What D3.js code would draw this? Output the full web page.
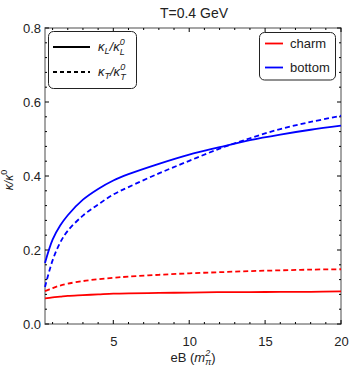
<!DOCTYPE html>
<html>
<head>
<meta charset="utf-8">
<script src="https://cdn.jsdelivr.net/npm/d3@7"></script>
<style>
  body { margin: 0; background: #fff; }
  svg { display: block; font-family: "Liberation Sans", Arial, sans-serif; }
</style>
</head>
<body>
<svg width="350" height="371"></svg>
<script>
// Data
const eB = [0.5, 1, 1.5, 2, 3, 4, 5, 6, 8, 10, 12, 14, 16, 18, 20];
const charmL = [0.069, 0.072, 0.074, 0.076, 0.078, 0.080, 0.082, 0.083, 0.084, 0.085, 0.086, 0.086, 0.087, 0.087, 0.088];
const charmT = [0.089, 0.097, 0.104, 0.109, 0.116, 0.121, 0.125, 0.128, 0.133, 0.137, 0.140, 0.143, 0.145, 0.147, 0.148];
const bottomL = [0.165, 0.228, 0.266, 0.294, 0.336, 0.365, 0.388, 0.405, 0.433, 0.458, 0.478, 0.497, 0.512, 0.525, 0.536];
const bottomT = [0.100, 0.172, 0.220, 0.252, 0.293, 0.323, 0.350, 0.370, 0.407, 0.441, 0.474, 0.502, 0.527, 0.546, 0.563];

const xTicks = [5, 10, 15, 20];
const xMinor = d3.range(1, 21);
const yTicks = [0, 0.2, 0.4, 0.6, 0.8];
const yMinor = d3.range(0, 21).map(i => i * 0.04);

const svg = d3.select("svg");

const margin = { left: 45, right: 9, top: 28, bottom: 47 };
const W = 350, H = 371;

const x = d3.scaleLinear().domain([0.5, 20]).range([margin.left, W - margin.right]);
const y = d3.scaleLinear().domain([0, 0.8]).range([H - margin.bottom, margin.top]);

// Frame
svg.append("rect")
    .attr("x", x.range()[0]).attr("y", y.range()[1])
    .attr("width", x.range()[1] - x.range()[0])
    .attr("height", y.range()[0] - y.range()[1])
    .attr("fill", "none")
    .attr("stroke", "#888")
    .attr("stroke-width", 1.5);

// Minor + major ticks on all four sides (pointing inward)
function xticks(g, vals, len) {
    vals.forEach(v => {
        const px = x(v);
        g.append("line").attr("x1", px).attr("x2", px)
            .attr("y1", y.range()[0]).attr("y2", y.range()[0] - len);
        g.append("line").attr("x1", px).attr("x2", px)
            .attr("y1", y.range()[1]).attr("y2", y.range()[1] + len);
    });
}
function yticks(g, vals, len) {
    vals.forEach(v => {
        const py = y(v);
        g.append("line").attr("y1", py).attr("y2", py)
            .attr("x1", x.range()[0]).attr("x2", x.range()[0] + len);
        g.append("line").attr("y1", py).attr("y2", py)
            .attr("x1", x.range()[1]).attr("x2", x.range()[1] - len);
    });
}
const tg = svg.append("g").attr("stroke", "#000").attr("stroke-width", 1);
xticks(tg, xMinor.filter(d => d % 5 !== 0), 2);
xticks(tg, xTicks, 4);
yticks(tg, yMinor.filter((d, i) => i % 5 !== 0), 2);
yticks(tg, yTicks, 4);

// Tick labels via axes (no lines)
const xAxis = svg.append("g")
    .attr("transform", `translate(0,${y.range()[0]})`)
    .call(d3.axisBottom(x).tickValues(xTicks).tickSize(0).tickPadding(13));
const yAxis = svg.append("g")
    .attr("transform", `translate(${x.range()[0]},0)`)
    .call(d3.axisLeft(y).tickValues(yTicks).tickFormat(d3.format(".1f")).tickSize(0).tickPadding(4));
[xAxis, yAxis].forEach(a => {
    a.select(".domain").remove();
    a.selectAll("text").attr("font-size", 13).attr("fill", "#222")
        .style("font-family", "Liberation Sans, Arial, sans-serif");
});

// Curves
const line = vals => d3.line()
    .x((d, i) => x(eB[i]))
    .y(d => y(d))
    .curve(d3.curveCatmullRom.alpha(0.5))(vals);

const series = [
    { vals: charmL, color: "#ff0000", dash: null },
    { vals: charmT, color: "#ff0000", dash: "5,3" },
    { vals: bottomL, color: "#0000ff", dash: null },
    { vals: bottomT, color: "#0000ff", dash: "5,3" }
];
svg.append("g").selectAll("path")
    .data(series)
    .enter()
    .append("path")
    .attr("d", d => line(d.vals))
    .attr("fill", "none")
    .attr("stroke", d => d.color)
    .attr("stroke-width", 1.8)
    .attr("stroke-dasharray", d => d.dash);

// Title
svg.append("text")
    .attr("x", 194).attr("y", 18)
    .attr("text-anchor", "middle")
    .attr("font-size", 14)
    .attr("fill", "#222")
    .text("T=0.4 GeV");

// Axis labels
const xl = svg.append("text")
    .attr("x", 193).attr("y", 362)
    .attr("text-anchor", "middle")
    .attr("font-size", 13)
    .attr("fill", "#222");
xl.append("tspan").text("eB (");
xl.append("tspan").attr("font-style", "italic").text("m");
xl.append("tspan").attr("font-size", 9).attr("dy", -6).attr("font-style", "italic").text("2");
xl.append("tspan").attr("font-size", 9).attr("dx", -5).attr("dy", 9).attr("font-style", "italic").text("π");
xl.append("tspan").attr("dy", -3).text(")");

const yl = svg.append("text")
    .attr("transform", "translate(13,180) rotate(-90)")
    .attr("text-anchor", "middle")
    .attr("font-size", 12)
    .attr("fill", "#222");
yl.append("tspan").attr("font-style", "italic").text("κ/κ");
yl.append("tspan").attr("font-size", 9).attr("dy", -6).text("0");

// Legend 1: line styles
const leg1 = svg.append("g");
leg1.append("rect")
    .attr("x", 48.5).attr("y", 31.5).attr("width", 88).attr("height", 57)
    .attr("rx", 5)
    .attr("fill", "#fff").attr("stroke", "#222").attr("stroke-width", 1);
const styleItems = [
    { dash: null, sub: "L", yy: 47 },
    { dash: "4,3", sub: "T", yy: 72 }
];
styleItems.forEach(it => {
    leg1.append("line")
        .attr("x1", 53).attr("x2", 90).attr("y1", it.yy).attr("y2", it.yy)
        .attr("stroke", "#000").attr("stroke-width", 1.8)
        .attr("stroke-dasharray", it.dash);
    const t = leg1.append("text")
        .attr("x", 98).attr("y", it.yy + 4)
        .attr("font-size", 13).attr("fill", "#222").attr("font-style", "italic");
    t.append("tspan").text("κ");
    t.append("tspan").attr("font-size", 9).attr("dy", 3).text(it.sub);
    t.append("tspan").attr("dy", -3).text("/κ");
    t.append("tspan").attr("font-size", 9).attr("dy", -6).text("0");
    t.append("tspan").attr("font-size", 9).attr("dx", -5).attr("dy", 10).text(it.sub);
});

// Legend 2: colours
const leg2 = svg.append("g");
leg2.append("rect")
    .attr("x", 259.5).attr("y", 32.5).attr("width", 76).attr("height", 47.5)
    .attr("rx", 5)
    .attr("fill", "#fff").attr("stroke", "#222").attr("stroke-width", 1);
const colorItems = [
    { name: "charm", color: "#ff0000", yy: 43.5 },
    { name: "bottom", color: "#0000ff", yy: 67.5 }
];
colorItems.forEach(it => {
    leg2.append("line")
        .attr("x1", 265).attr("x2", 283).attr("y1", it.yy).attr("y2", it.yy)
        .attr("stroke", it.color).attr("stroke-width", 1.8);
    leg2.append("text")
        .attr("x", 290).attr("y", it.yy + 4.5)
        .attr("font-size", 13).attr("fill", "#222")
        .text(it.name);
});
</script>
</body>
</html>
